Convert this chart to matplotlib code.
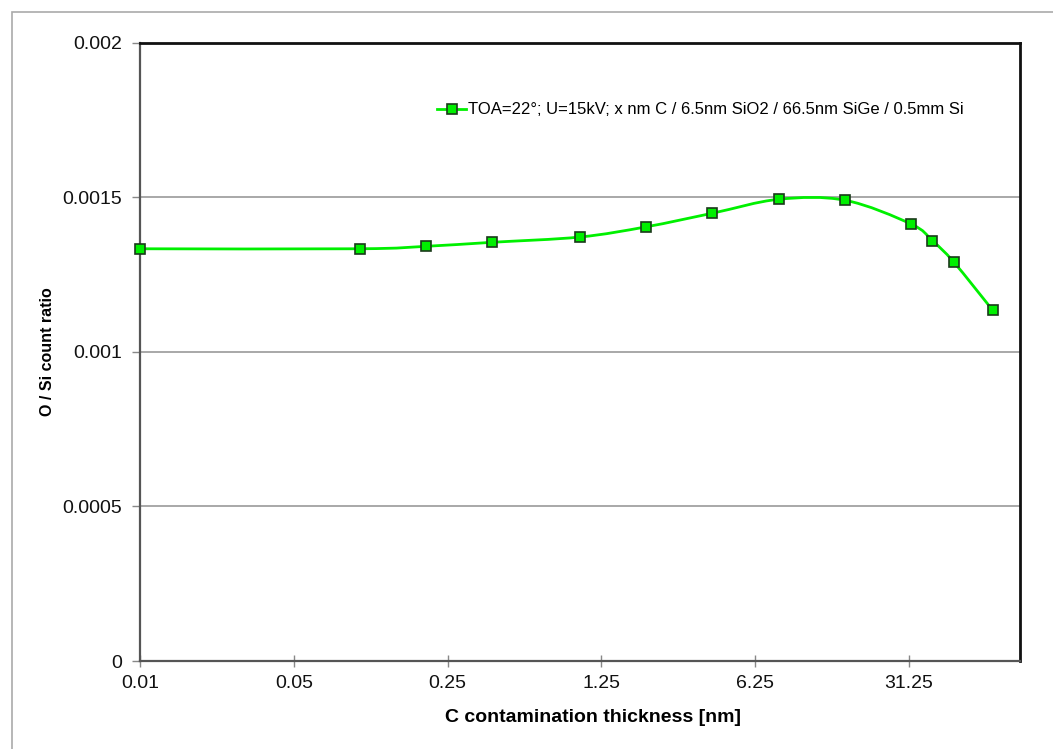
import numpy as np
import matplotlib
matplotlib.use("Agg")
import matplotlib.pyplot as plt
from matplotlib.path import Path
from matplotlib.patches import PathPatch, Rectangle
from matplotlib.lines import Line2D

# C thickness [nm] and O/Si count ratio
thickness = [0.01, 0.1, 0.2, 0.4, 1, 2, 4, 8, 16, 32, 40, 50, 75]
ratio = [0.001333, 0.001333, 0.001341, 0.001354, 0.001371, 0.001404, 0.001448,
         0.001493, 0.001490, 0.001413, 0.001359, 0.001290, 0.001135]
xticks = [0.01, 0.05, 0.25, 1.25, 6.25, 31.25]
xticklabels = ['0.01', '0.05', '0.25', '1.25', '6.25', '31.25']
yticks = [0, 0.0005, 0.001, 0.0015, 0.002]
yticklabels = ['0', '0.0005', '0.001', '0.0015', '0.002']
legend_label = 'TOA=22°; U=15kV; x nm C / 6.5nm SiO2 / 66.5nm SiGe / 0.5mm Si'

green = '#00f000'

plt.rcParams['font.family'] = ['Liberation Sans', 'DejaVu Sans']

fig = plt.figure(figsize=(10.53, 7.49), dpi=100)
ax = fig.add_axes([140/1053, 1-661/749, 880/1053, 618.5/749])

# outer chart frame (only top/left visible)
fig.patches.append(Rectangle((12/1053, -0.1), 1.2, 1.1 - 12/749, transform=fig.transFigure,
                             fill=False, edgecolor='#aaaaaa', lw=1.2))

ax.set_xscale('log', base=5)
ax.set_xlim(0.01, 100)
ax.set_ylim(0, 0.002)

# smoothed line (excel-like bezier in log-x space)
lx = np.log10(thickness)
yy = np.array(ratio)
n = len(lx)
verts = [(thickness[0], ratio[0])]
codes = [Path.MOVETO]
for i in range(n - 1):
    p0 = np.array([lx[max(i - 1, 0)], yy[max(i - 1, 0)]])
    p1 = np.array([lx[i], yy[i]])
    p2 = np.array([lx[i + 1], yy[i + 1]])
    p3 = np.array([lx[min(i + 2, n - 1)], yy[min(i + 2, n - 1)]])
    c1 = p1 + (p2 - p0) / 6
    c2 = p2 - (p3 - p1) / 6
    verts += [(10**c1[0], c1[1]), (10**c2[0], c2[1]), (thickness[i + 1], ratio[i + 1])]
    codes += [Path.CURVE4] * 3
ax.add_patch(PathPatch(Path(verts, codes), fill=False, edgecolor=green, lw=2, zorder=3))
ax.plot(thickness, ratio, ls='none', marker='s', markersize=7.5, markerfacecolor=green,
        markeredgecolor='#1a3a1a', markeredgewidth=1.2, zorder=4, clip_on=False)

ax.xaxis.set_major_locator(matplotlib.ticker.FixedLocator(xticks))
ax.xaxis.set_minor_locator(matplotlib.ticker.NullLocator())
ax.set_xticklabels(xticklabels)
ax.set_yticks(yticks)
ax.set_yticklabels(yticklabels)
ax.tick_params(axis='x', direction='inout', length=8, width=1, color='#888888',
               labelsize=14, pad=6, labelcolor='#111111')
ax.tick_params(axis='y', direction='out', length=6, width=1, color='#888888',
               labelsize=14, pad=7, labelcolor='#111111')

ax.yaxis.grid(True, color='#999999', lw=1.2)
ax.set_axisbelow(True)

for s in ['left', 'bottom']:
    ax.spines[s].set_color('#555555')
    ax.spines[s].set_linewidth(1.6)
for s in ['top', 'right']:
    ax.spines[s].set_color('#111111')
    ax.spines[s].set_linewidth(2)

ax.set_xlabel('C contamination thickness [nm]', fontsize=14, fontweight='bold')
ax.set_ylabel('O / Si count ratio', fontsize=11.5, fontweight='bold')
ax.xaxis.set_label_coords(0.515, -0.077)
ax.yaxis.set_label_coords(-0.097, 0.5)

handle = Line2D([], [], color=green, lw=2, marker='s', markersize=7.5,
                markerfacecolor=green, markeredgecolor='#1a3a1a', markeredgewidth=1.2)
fig.legend([handle], [legend_label], loc='center left',
           bbox_to_anchor=(437/1053, 1-110/749), frameon=False, fontsize=12,
           handlelength=1.75, handletextpad=0.1, borderpad=0, borderaxespad=0)

fig.savefig('out.png', dpi=100)
